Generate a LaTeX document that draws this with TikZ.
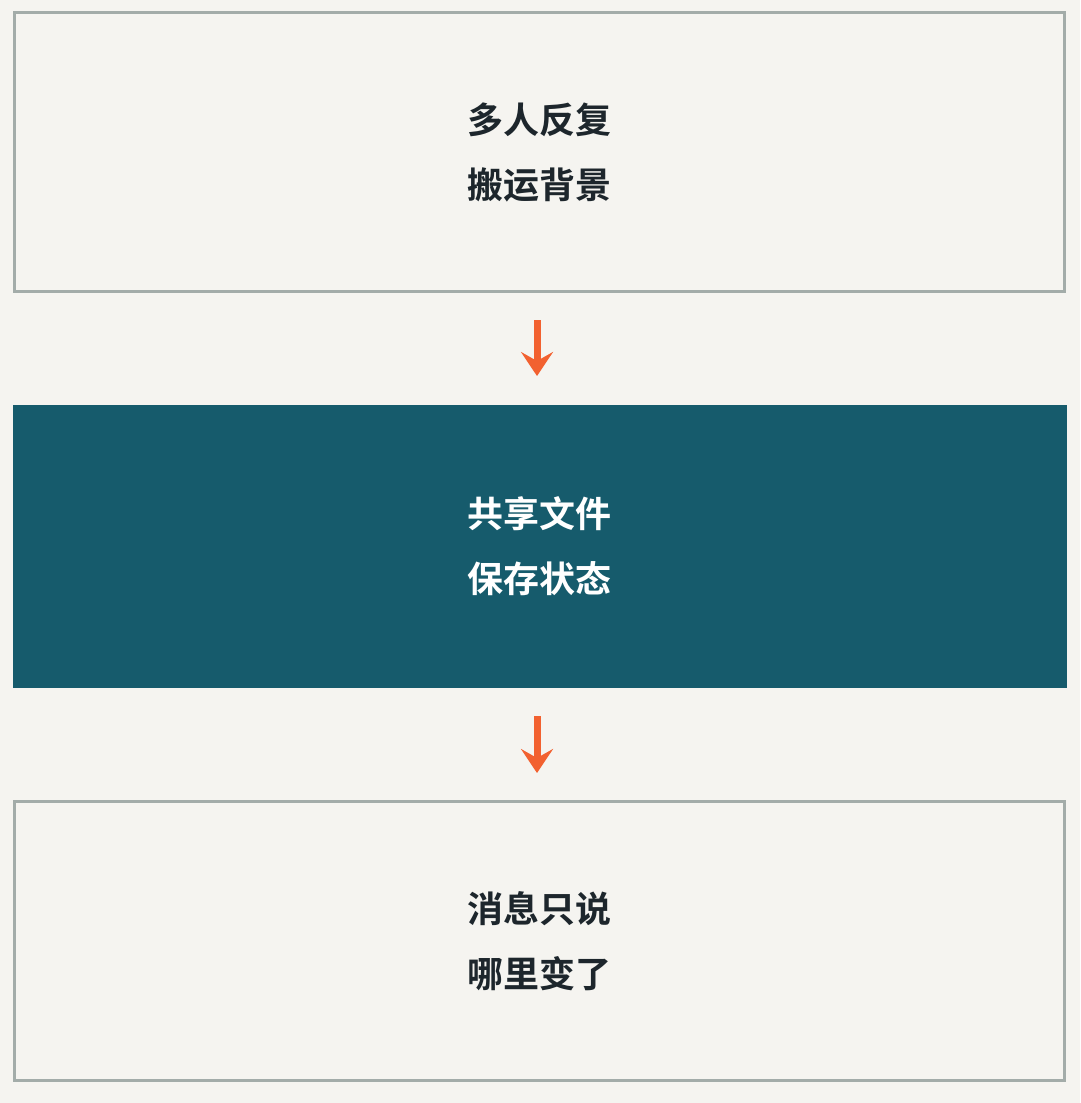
\documentclass[tikz,border=0pt]{standalone}
\usepackage{fontspec}
\usepackage{xcolor}
\usetikzlibrary{arrows.meta, positioning}
\newfontfamily\cjkb[BoldFont=Noto Sans CJK SC Bold]{Noto Sans CJK SC}
\definecolor{paper}{HTML}{F5F4F0}
\definecolor{rim}{HTML}{A3ACA9}
\definecolor{teal}{HTML}{165B6C}
\definecolor{ink}{HTML}{1D262C}
\definecolor{flame}{HTML}{F26130}
\begin{document}
\begin{tikzpicture}[x=1pt,y=1pt,node distance=112pt,
	card/.style={draw=rim,line width=3pt,fill=paper,minimum width=1050pt,minimum height=279pt,
		align=center,text=ink,font=\cjkb\bfseries\fontsize{36pt}{65pt}\selectfont},
	hot/.style={card,draw=none,fill=teal,text=white,minimum width=1054pt,minimum height=283pt},
	flow/.style={-{Stealth[length=24pt,width=32pt,inset=9pt]},draw=flame,line width=7pt,
		shorten <=27pt,shorten >=27pt}]
			\fill[paper] (0,0) rectangle (1080,-1103);
			\node[card] (relay) at (539.5,-152) {多人反复\\搬运背景};
			\node[hot] (shared) [below=110pt of relay] {共享文件\\保存状态};
			\node[card] (notify) [below=111pt of shared] {消息只说\\哪里变了};
			
			\draw[flow] ([xshift=-2.5pt]relay.south) -- ([xshift=-2.5pt]shared.north);
			\draw[flow] ([xshift=-2.5pt]shared.south) -- ([xshift=-2.5pt]notify.north);
		\end{tikzpicture}
\end{document}
